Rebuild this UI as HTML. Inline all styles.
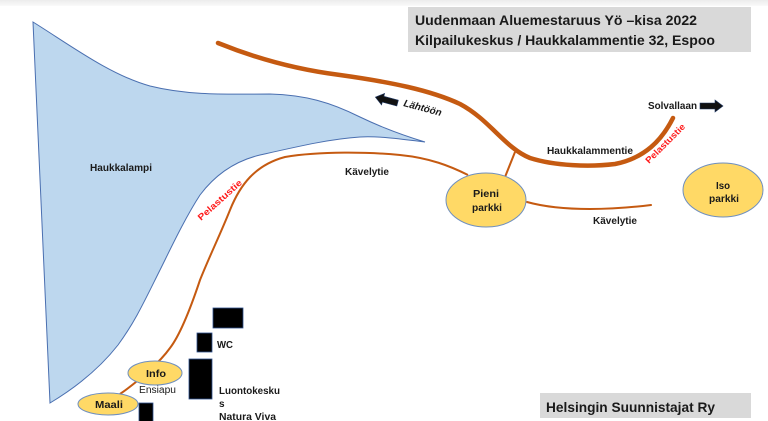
<!DOCTYPE html>
<html><head><meta charset="utf-8"><style>
html,body{margin:0;padding:0;background:#fff;}
svg{display:block;}
text{font-family:"Liberation Sans",sans-serif;font-weight:bold;fill:#1a1a1a;}
</style></head><body>
<svg width="768" height="421" viewBox="0 0 768 421" xmlns="http://www.w3.org/2000/svg">
<defs><linearGradient id="tg" x1="0" y1="0" x2="0" y2="1"><stop offset="0" stop-color="#ececec"/><stop offset="1" stop-color="#fafafa"/></linearGradient></defs>
<rect x="0" y="0" width="768" height="6" fill="url(#tg)"/>
<!-- lake -->
<path d="M33,22 C70,45 110,75 150,86 C190,96 230,94 270,94 C305,95 330,102 360,117 C385,129 405,136 425,142 C400,139 380,136 360,137 C330,139 300,146 260,155 C235,161 215,175 200,195 C185,218 170,250 160,270 C145,300 135,322 118,345 C100,368 75,388 50,403 Z" fill="#bdd7ee" stroke="#4a6fb0" stroke-width="1"/>
<!-- main road -->
<path d="M218,43 C260,60 300,70 340,75 C390,82 430,90 460,104 C490,120 505,148 530,158 C555,166 590,167 615,164 C645,158 662,140 673,118" fill="none" stroke="#c55a11" stroke-width="4.5" stroke-linecap="round"/>
<!-- connector -->
<path d="M515,152 L505,177" fill="none" stroke="#c55a11" stroke-width="2"/>
<!-- upper kavelytie -->
<path d="M468,175 C450,166 430,158 400,155 C370,152 320,151 285,157 C255,165 240,185 230,210 C220,235 210,255 200,280 C190,310 180,335 170,348 C160,362 140,380 120,394" fill="none" stroke="#c55a11" stroke-width="2"/>
<!-- lower kavelytie -->
<path d="M527,202 C545,207 565,209 590,209 C615,209 635,207 651,205" fill="none" stroke="#c55a11" stroke-width="2" stroke-linecap="round"/>
<!-- title box -->
<rect x="408" y="7" width="343" height="45" fill="#d9d9d9"/>
<text x="415" y="25" font-size="14" textLength="282" lengthAdjust="spacingAndGlyphs">Uudenmaan Aluemestaruus Yö –kisa 2022</text>
<text x="415" y="45" font-size="14" textLength="300" lengthAdjust="spacingAndGlyphs">Kilpailukeskus / Haukkalammentie 32, Espoo</text>
<!-- bottom box -->
<rect x="540" y="393" width="211" height="25" fill="#d9d9d9"/>
<text x="546" y="412" font-size="14" textLength="169" lengthAdjust="spacingAndGlyphs">Helsingin Suunnistajat Ry</text>
<!-- labels -->
<text x="90" y="171" font-size="10" textLength="62" lengthAdjust="spacingAndGlyphs">Haukkalampi</text>
<text x="345" y="175" font-size="10" textLength="44" lengthAdjust="spacingAndGlyphs">Kävelytie</text>
<text x="547" y="154" font-size="10" textLength="86" lengthAdjust="spacingAndGlyphs">Haukkalammentie</text>
<text x="648" y="109" font-size="10" textLength="49" lengthAdjust="spacingAndGlyphs">Solvallaan</text>
<text x="593" y="224" font-size="10" textLength="44" lengthAdjust="spacingAndGlyphs">Kävelytie</text>
<text transform="translate(403,106) rotate(15)" font-size="10" font-style="italic" textLength="39" lengthAdjust="spacingAndGlyphs">Lähtöön</text>
<text transform="translate(201,221) rotate(-42)" font-size="9" style="fill:#ff1a1a" textLength="56" lengthAdjust="spacingAndGlyphs">Pelastustie</text>
<text transform="translate(649,164) rotate(-45)" font-size="9" style="fill:#ff1a1a" textLength="52" lengthAdjust="spacingAndGlyphs">Pelastustie</text>
<!-- arrows -->
<path d="M700,103 L715,103 L715,100 L723,106 L715,112 L715,109 L700,109 Z" fill="#111" stroke="#1f3864" stroke-width="0.6"/>
<g transform="translate(386,100) rotate(15)">
<path d="M12,-3 L-3,-3 L-3,-6 L-11,0 L-3,6 L-3,3 L12,3 Z" fill="#111" stroke="#1f3864" stroke-width="0.6"/>
</g>
<!-- ellipses -->
<ellipse cx="486" cy="200" rx="40" ry="27" fill="#ffd966" stroke="#6f8fbf" stroke-width="1"/>
<text x="473" y="197" font-size="10" textLength="26" lengthAdjust="spacingAndGlyphs">Pieni</text>
<text x="472" y="211" font-size="10" textLength="30" lengthAdjust="spacingAndGlyphs">parkki</text>
<ellipse cx="723" cy="190" rx="40" ry="27" fill="#ffd966" stroke="#6f8fbf" stroke-width="1"/>
<text x="716" y="189" font-size="10" textLength="14" lengthAdjust="spacingAndGlyphs">Iso</text>
<text x="709" y="202" font-size="10" textLength="30" lengthAdjust="spacingAndGlyphs">parkki</text>
<ellipse cx="155" cy="373" rx="27" ry="12" fill="#ffd966" stroke="#6f8fbf" stroke-width="1"/>
<text x="146" y="377" font-size="10" textLength="20" lengthAdjust="spacingAndGlyphs">Info</text>
<ellipse cx="108" cy="404" rx="30" ry="11" fill="#ffd966" stroke="#6f8fbf" stroke-width="1"/>
<text x="95" y="408" font-size="10" textLength="28" lengthAdjust="spacingAndGlyphs">Maali</text>
<!-- buildings -->
<rect x="213" y="308" width="30" height="20" fill="#000" stroke="#2f528f" stroke-width="0.8"/>
<rect x="197" y="333" width="15" height="19" fill="#000" stroke="#2f528f" stroke-width="0.8"/>
<rect x="189" y="359" width="23" height="40" fill="#000" stroke="#2f528f" stroke-width="0.8"/>
<rect x="139" y="403" width="14" height="20" fill="#000" stroke="#2f528f" stroke-width="0.8"/>
<text x="217" y="348" font-size="10" textLength="16" lengthAdjust="spacingAndGlyphs">WC</text>
<text x="139" y="393" font-size="10" style="font-weight:normal" textLength="37" lengthAdjust="spacingAndGlyphs">Ensiapu</text>
<text x="219" y="394" font-size="10" textLength="61" lengthAdjust="spacingAndGlyphs">Luontokesku</text>
<text x="219" y="407" font-size="10">s</text>
<text x="219" y="420" font-size="10" textLength="57" lengthAdjust="spacingAndGlyphs">Natura Viva</text>
</svg>
</body></html>
